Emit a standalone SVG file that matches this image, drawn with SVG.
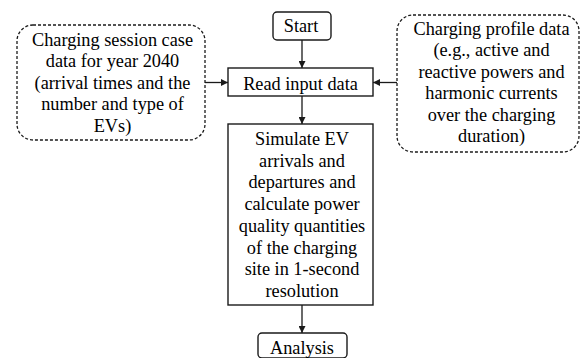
<svg xmlns="http://www.w3.org/2000/svg" width="581" height="358" viewBox="0 0 581 358">
  <style>
    .box { fill: #ffffff; stroke: #1a1a1a; stroke-width: 1.4; }
    .data { fill: #ffffff; stroke: #1a1a1a; stroke-width: 1.3; stroke-dasharray: 3 2; }
    .lbl { font-family: 'Liberation Serif', Tinos, 'Times New Roman', serif; font-size: 18.3px; fill: #000000; text-anchor: middle; }
    .edge { stroke: #1a1a1a; stroke-width: 1.3; fill: none; marker-end: url(#head); }
  </style>
  <defs>
    <marker id="head" viewBox="0 0 10 10" refX="10" refY="5" markerWidth="7" markerHeight="7" markerUnits="userSpaceOnUse" orient="auto">
      <path d="M0,0 L10,5 L0,10 z" fill="#1a1a1a"/>
    </marker>
  </defs>
  <rect width="581" height="358" fill="#ffffff"/>

  <!-- flow arrows -->
  <g id="connectors">
    <line class="edge" x1="302" y1="40" x2="302" y2="68"/>
    <line class="edge" x1="205" y1="82.5" x2="228" y2="82.5"/>
    <line class="edge" x1="397" y1="82.5" x2="373" y2="82.5"/>
    <line class="edge" x1="302" y1="96" x2="302" y2="124"/>
    <line class="edge" x1="302" y1="305" x2="302" y2="333"/>
  </g>

  <g id="start">
    <rect class="box" x="273" y="12" width="58" height="28" rx="4"/>
    <text class="lbl" x="301" y="32">Start</text>
  </g>

  <g id="read-input">
    <rect class="box" x="228" y="68" width="145" height="28"/>
    <text class="lbl" x="300.5" y="89.5">Read input data</text>
  </g>

  <!-- input data sources (dashed) -->
  <g id="session-data">
    <rect class="data" x="17" y="25" width="188" height="115" rx="16"/>
    <text class="lbl" x="112.5" y="45.5">Charging session case</text>
    <text class="lbl" x="112.5" y="67">data for year 2040</text>
    <text class="lbl" x="112.5" y="88.5">(arrival times and the</text>
    <text class="lbl" x="112.5" y="110">number and type of</text>
    <text class="lbl" x="112.5" y="131.5">EVs)</text>
  </g>

  <g id="profile-data">
    <rect class="data" x="397" y="15" width="182" height="137" rx="16"/>
    <text class="lbl" x="491.5" y="34.5">Charging profile data</text>
    <text class="lbl" x="491.5" y="56">(e.g., active and</text>
    <text class="lbl" x="491.5" y="77.5">reactive powers and</text>
    <text class="lbl" x="491.5" y="99">harmonic currents</text>
    <text class="lbl" x="491.5" y="120.5">over the charging</text>
    <text class="lbl" x="491.5" y="142">duration)</text>
  </g>

  <g id="simulate">
    <rect class="box" x="228" y="124" width="145" height="181"/>
    <text class="lbl" x="302" y="145">Simulate EV</text>
    <text class="lbl" x="302" y="166.7">arrivals and</text>
    <text class="lbl" x="302" y="188.4">departures and</text>
    <text class="lbl" x="302" y="210.1">calculate power</text>
    <text class="lbl" x="302" y="231.8">quality quantities</text>
    <text class="lbl" x="302" y="253.5">of the charging</text>
    <text class="lbl" x="302" y="275.2">site in 1-second</text>
    <text class="lbl" x="302" y="296.9">resolution</text>
  </g>

  <g id="analysis">
    <rect class="box" x="258" y="333" width="89" height="25" rx="4"/>
    <text class="lbl" x="302" y="354">Analysis</text>
  </g>
</svg>
